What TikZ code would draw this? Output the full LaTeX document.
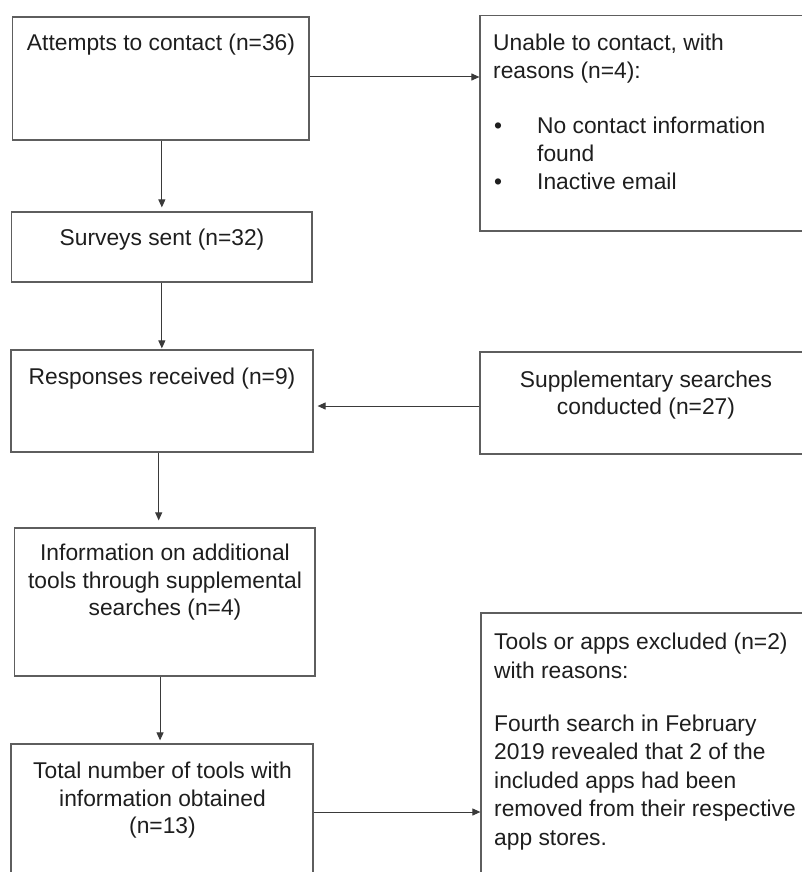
\documentclass[tikz,border=0pt]{standalone}
\usepackage{fontspec}
\setmainfont{Liberation Sans}
\usetikzlibrary{arrows.meta}
\definecolor{boxline}{HTML}{5E5E5E}
\definecolor{conline}{HTML}{3A3A3A}
\definecolor{txt}{HTML}{1E1E1E}
\tikzset{
  box/.style={draw=boxline, line width=1.2pt, rectangle, inner sep=0pt},
  ctext/.style={anchor=base, align=center, inner sep=0pt, text=txt, font=\fontsize{22.8}{27.5}\selectfont},
  ltext/.style={anchor=base west, align=left, inner sep=0pt, text=txt, font=\fontsize{22.8}{28.5}\selectfont},
  conn/.style={draw=conline, line width=1pt, -{Triangle[length=8pt,width=7pt]}}
}
\begin{document}
\begin{tikzpicture}[x=1pt,y=-1pt]
\useasboundingbox (0,0) rectangle (802,872);
% boxes
\node[box, minimum width=296.3pt, minimum height=123pt] (b1) at (160.85,78.5) {};
\node[box, minimum width=332pt, minimum height=215.3pt] (b2) at (646,123.35) {};
\node[box, minimum width=300.3pt, minimum height=70pt] (surv) at (161.85,247) {};
\node[box, minimum width=302pt, minimum height=102pt] (resp) at (162,401) {};
\node[box, minimum width=332pt, minimum height=102pt] (supp) at (646,403) {};
\node[box, minimum width=300.7pt, minimum height=148pt] (info) at (164.65,602) {};
\node[box, minimum width=302pt, minimum height=136pt] (total) at (162,812) {};
\node[box, minimum width=331pt, minimum height=394pt] (excl) at (646.5,810) {};
% texts (base anchor = baseline of the last line)
\node[ctext] (t1) at (161,50.5) {Attempts to contact (n=36)};
\node[ltext, font=\fontsize{22.8}{28}\selectfont] (t2) at (493,189.5) {Unable to contact, with\\reasons (n=4):\\[27pt]\hspace*{1pt}\makebox[43pt][l]{\textbullet}No contact information\\\hspace*{44pt}found\\\hspace*{1pt}\makebox[43pt][l]{\textbullet}Inactive email};
\node[ctext] (t3) at (162,245.5) {Surveys sent (n=32)};
\node[ctext] (t4) at (162,384.5) {Responses received (n=9)};
\node[ctext] (t5) at (646,414.5) {Supplementary searches\\conducted (n=27)};
\node[ctext] (t6) at (165,615.5) {Information on additional\\tools through supplemental\\searches (n=4)};
\node[ctext] (t7) at (162.5,833.5) {Total number of tools with\\information obtained\\(n=13)};
\node[ltext] (t8) at (494,845) {Tools or apps excluded (n=2)\\with reasons:\\[24.5pt]Fourth search in February\\2019 revealed that 2 of the\\included apps had been\\removed from their respective\\app stores.};
% connectors
\draw[conn] ([yshift=1.5pt]b1.east) -- ([yshift=1.5pt]b1.east -| b2.west);
\draw[conn, shorten >=4pt] ([xshift=1pt]b1.south) -- ([xshift=1pt]b1.south |- surv.north);
\draw[conn, shorten >=1pt] (surv.south) -- (surv.south |- resp.north);
\draw[conn, shorten >=4pt] ([yshift=-3pt]supp.west) -- ([yshift=-3pt]supp.west -| resp.east);
\draw[conn, shorten >=7pt] ([xshift=-3.3pt]resp.south) -- ([xshift=-3.3pt]resp.south |- info.north);
\draw[conn, shorten >=3pt] ([xshift=-4.6pt]info.south) -- ([xshift=-4.6pt]info.south |- total.north);
\draw[conn] (total.east) -- (total.east -| excl.west);
\end{tikzpicture}
\end{document}
